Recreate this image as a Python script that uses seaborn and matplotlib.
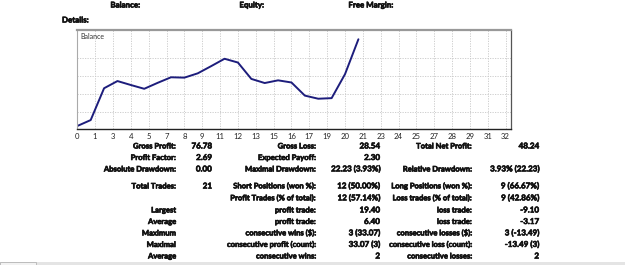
import matplotlib
matplotlib.use("Agg")
import matplotlib.pyplot as plt
import matplotlib.patheffects as pe
import seaborn as sns
from matplotlib.patches import Rectangle

# balance curve (profit relative to deposit), one point per closed trade
trade_no = list(range(22))
balance = [0.0, 3.3, 21.0, 25.0, 22.8, 20.7, 24.0, 27.1, 26.9, 29.3, 33.3,
           37.4, 35.3, 26.2, 23.9, 25.4, 24.2, 16.9, 15.17, 15.5, 28.84, 48.24]

tick_pos = [k * 32 / 24 for k in range(25)]
tick_labels = ['0', '1', '3', '4', '5', '7', '8', '9', '11', '12', '13', '15', '16',
               '17', '19', '20', '21', '23', '24', '25', '27', '28', '29', '31', '32']
grid_y = [7.9, 17.8, 27.8, 37.7]

header = ['Balance:', 'Equity:', 'Free Margin:']

# report table: (label, value) per column, one list per row
rows = [
    [('Gross Profit:', '76.78'), ('Gross Loss:', '28.54'), ('Total Net Profit:', '48.24')],
    [('Profit Factor:', '2.69'), ('Expected Payoff:', '2.30'), ('', '')],
    [('Absolute Drawdown:', '0.00'), ('Maximal Drawdown:', '22.23 (3.93%)'),
     ('Relative Drawdown:', '3.93% (22.23)')],
    [('Total Trades:', '21'), ('Short Positions (won %):', '12 (50.00%)'),
     ('Long Positions (won %):', '9 (66.67%)')],
    [('', ''), ('Profit Trades (% of total):', '12 (57.14%)'),
     ('Loss trades (% of total):', '9 (42.86%)')],
    [('Largest', ''), ('profit trade:', '19.40'), ('loss trade:', '-9.10')],
    [('Average', ''), ('profit trade:', '6.40'), ('loss trade:', '-3.17')],
    [('Maximum', ''), ('consecutive wins ($):', '3 (33.07)'),
     ('consecutive losses ($):', '3 (-13.49)')],
    [('Maximal', ''), ('consecutive profit (count):', '33.07 (3)'),
     ('consecutive loss (count):', '-13.49 (3)')],
    [('Average', ''), ('consecutive wins:', '2'), ('consecutive losses:', '2')],
]
row_y = [146, 157.5, 169, 186, 198, 210, 221.5, 233, 244.5, 256]

W, H = 625, 265
sns.set_style("white")
plt.rcParams['font.family'] = ['Lato', 'DejaVu Sans']

fig = plt.figure(figsize=(W / 100, H / 100), dpi=100)
fig.patch.set_facecolor('white')

# thicken the strokes a little so the report text reads bold
heavy = [pe.withStroke(linewidth=0.45, foreground='#111111')]


def fx(px):
    return px / W


def fy(py):
    return 1 - py / H


ax = fig.add_axes([fx(77.3), fy(129), fx(511) - fx(77.3), fy(30) - fy(129)])
sns.lineplot(x=trade_no, y=balance, ax=ax, color='#1d1d7c', linewidth=1.4)
ax.set_xlim(0, 32.4)
ax.set_ylim(-1.67, 53.4)
ax.set_xticks(tick_pos)
ax.set_xticklabels(tick_labels, fontsize=5.6, color='#222222')
ax.set_yticks(grid_y)
ax.set_yticklabels([])
ax.tick_params(axis='both', length=0, pad=3)
ax.grid(True, color='#c8c8c8', linestyle=(0, (1.5, 1.5)), linewidth=0.6)
ax.set_xlabel('')
ax.set_ylabel('')
ax.spines['top'].set_color('#999999')
ax.spines['top'].set_linewidth(1.6)
ax.spines['left'].set_color('#aaaaaa')
ax.spines['left'].set_linewidth(0.8)
ax.spines['bottom'].set_color('#222222')
ax.spines['bottom'].set_linewidth(1.0)
ax.spines['right'].set_color('#555555')
ax.spines['right'].set_linewidth(0.9)
ax.text(0.006, 0.97, 'Balance', transform=ax.transAxes, fontsize=5.0,
        color='#333333', ha='left', va='top')

# header line
for name, xr in zip(header, [140, 264, 393]):
    fig.text(fx(xr), fy(5), name, ha='right', va='center', fontsize=5.7,
             fontweight='bold', color='#111111', path_effects=heavy)
fig.text(fx(62), fy(20), 'Details:', ha='left', va='center', fontsize=5.7,
         fontweight='bold', color='#111111', path_effects=heavy)

label_right = [176, 316, 472]
value_right = [212, 380, 539]
for yy, row in zip(row_y, rows):
    for c, (lab, val) in enumerate(row):
        if lab:
            fig.text(fx(label_right[c]), fy(yy), lab, ha='right', va='center',
                     fontsize=5.5, fontweight='bold', color='#111111',
                     path_effects=heavy)
        if val:
            fig.text(fx(value_right[c]), fy(yy), val, ha='right', va='center',
                     fontsize=5.8, fontweight='bold', color='#111111',
                     path_effects=heavy)

# bottom window strip
fig.patches.append(Rectangle((0, 0), 1, fy(261.5), transform=fig.transFigure,
                             facecolor='#e4e4e4', edgecolor='none'))
fig.patches.append(Rectangle((0, 0), fx(36), fy(262), transform=fig.transFigure,
                             facecolor='#f2f2f2', edgecolor='#b5b5b5', linewidth=0.6))

fig.savefig('out.png', dpi=100)
